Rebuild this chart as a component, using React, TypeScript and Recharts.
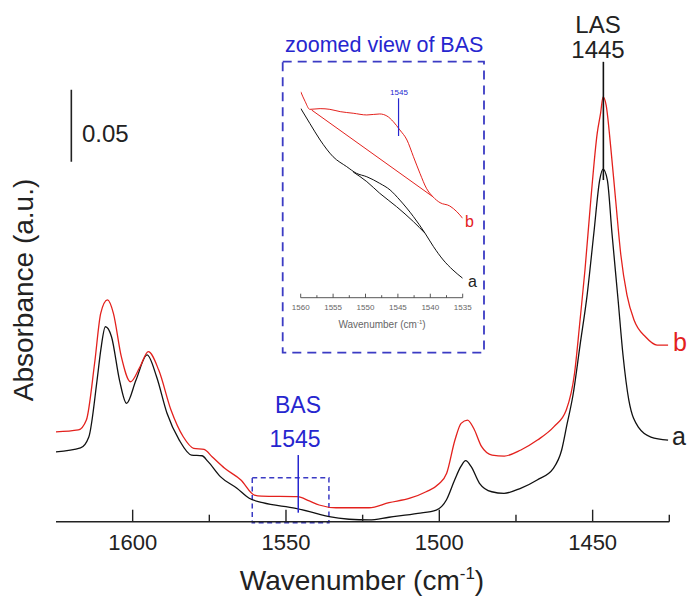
import React from "react";
import { Line, LineChart, ReferenceArea, ReferenceLine, XAxis, YAxis } from "recharts";

const FONT = "'Liberation Sans', Arial, Helvetica, sans-serif";
const RED = "#e3211d";
const BLUE = "#2626cf";
const DASH_BLUE = "#3b3bc4";

// main view, spectrum a (black)
const aWave = [
  1625.2, 1617.0, 1614.3, 1611.6, 1610.4, 1608.9, 1606.9, 1604.3, 1602.0, 1598.9, 1595.3, 1592.2,
  1588.8, 1584.8, 1580.8, 1577.4, 1575.4, 1571.4, 1566.0, 1562.0, 1557.6, 1546.8, 1540.2, 1535.9,
  1529.4, 1522.9, 1516.4, 1507.0, 1501.0, 1497.7, 1495.0, 1493.0, 1491.4, 1489.6, 1486.9, 1482.9,
  1478.9, 1473.5, 1468.1, 1462.8, 1460.1, 1458.4, 1456.4, 1454.1, 1451.8, 1449.6, 1447.7, 1446.6,
  1445.2, 1443.7, 1441.7, 1440.1, 1438.2, 1434.9, 1431.0, 1425.4,
];
const aAbs = [
  0.0484, 0.0512, 0.0588, 0.0984, 0.1192, 0.1354, 0.1285, 0.0984, 0.0822, 0.0984, 0.1158, 0.1007,
  0.0753, 0.0567, 0.0463, 0.0458, 0.0417, 0.0313, 0.0232, 0.0163, 0.0132, 0.0093, 0.0058, 0.0035,
  0.0017, 0.0012, 0.0031, 0.0058, 0.0081, 0.0151, 0.029, 0.0382, 0.0424, 0.0382, 0.0267, 0.0208,
  0.0197, 0.0232, 0.029, 0.0371, 0.0498, 0.0672, 0.088, 0.1227, 0.1574, 0.2005, 0.2373, 0.2449,
  0.2373, 0.2005, 0.154, 0.1158, 0.0845, 0.0651, 0.0588, 0.0567,
];

// main view, spectrum b (red)
const bWave = [
  1625.2, 1617.7, 1615.1, 1612.4, 1610.4, 1608.2, 1606.3, 1603.7, 1600.7, 1597.6, 1594.9, 1591.5,
  1587.5, 1583.5, 1580.1, 1576.7, 1574.1, 1570.0, 1564.7, 1560.3, 1558.0, 1546.2, 1542.4, 1539.2,
  1533.7, 1522.9, 1516.4, 1509.6, 1504.3, 1500.2, 1497.6, 1494.9, 1492.9, 1490.8, 1488.8, 1486.2,
  1482.8, 1478.8, 1473.4, 1468.0, 1462.6, 1458.6, 1455.9, 1454.1, 1452.5, 1450.6, 1448.5, 1447.4,
  1446.6, 1445.6, 1444.1, 1442.5, 1440.8, 1438.8, 1436.5, 1432.7, 1429.0, 1425.4,
];
const bAbs = [
  0.0623, 0.0637, 0.0706, 0.1102, 0.1449, 0.154, 0.1449, 0.1146, 0.0972, 0.1076, 0.1181, 0.1053,
  0.0776, 0.059, 0.051, 0.0502, 0.0451, 0.0371, 0.029, 0.0185, 0.0178, 0.0174, 0.0144, 0.0116,
  0.0097, 0.0097, 0.0132, 0.0163, 0.0208, 0.0262, 0.0336, 0.0567, 0.0683, 0.0706, 0.0649, 0.0521,
  0.0463, 0.0456, 0.0498, 0.0567, 0.066, 0.0776, 0.1031, 0.1401, 0.1748, 0.2234, 0.2699, 0.2838,
  0.2951, 0.2894, 0.2602, 0.2234, 0.1852, 0.1574, 0.1401, 0.1283, 0.1227, 0.1227,
];

// inset (1560-1535 cm-1)
const zbWave = [
  1560, 1559.3, 1558.6, 1557.0, 1555.5, 1553.9, 1551.9, 1549.8, 1547.8, 1546.7, 1545.7, 1544.7,
  1543.6, 1542.6, 1541.6, 1540.6, 1539.6, 1538.5, 1537.0, 1535.9, 1535.0,
];
const zbAbs = [
  0.01431, 0.01361, 0.01308, 0.01313, 0.01308, 0.01292, 0.01281, 0.01269, 0.01276, 0.01262, 0.01222,
  0.01165, 0.01095, 0.00979, 0.00864, 0.0076, 0.00701, 0.0066, 0.00637, 0.00597, 0.00551,
];
const zbBaseWave = [1558.3, 1539.6];
const zbBaseAbs = [0.01303, 0.00701];

const zaWave = [
  1560, 1558.6, 1557.0, 1555.0, 1552.9, 1551.4, 1549.8, 1547.8, 1546.2, 1544.7, 1542.6, 1540.8,
  1539.5, 1538.0, 1536.5, 1535.0,
];
const zaAbs = [
  0.01315, 0.01211, 0.01095, 0.00979, 0.0091, 0.00864, 0.0084, 0.00794, 0.00748, 0.00678, 0.00563,
  0.00447, 0.00354, 0.00262, 0.00192, 0.00135,
];
const zaBaseWave = [1551.9, 1549.8, 1547.8, 1545.2, 1542.6, 1540.8];
const zaBaseAbs = [0.00873, 0.00806, 0.00725, 0.00632, 0.00528, 0.00447];

const mainTicks = [1600, 1575, 1550, 1525, 1500, 1475, 1450, 1425];
const insetTicks = [1560, 1557.5, 1555, 1552.5, 1550, 1547.5, 1545, 1542.5, 1540, 1537.5, 1535];

const zip = (w: number[], v: number[]) => w.map((x, i) => ({ w: x, v: v[i] }));

function MainTick({ x, y, payload }: any) {
  const major = payload.value % 50 === 0;
  return (
    <g>
      <line x1={x} x2={x} y1={y} y2={y - (major ? 12 : 7)} stroke="#222" strokeWidth={1.4} />
      {major ? (
        <text x={x} y={y + 28} textAnchor="middle" fontSize={22} fill="#222" fontFamily={FONT}>
          {payload.value}
        </text>
      ) : null}
    </g>
  );
}

function InsetTick({ x, y, payload }: any) {
  const major = payload.value % 5 === 0;
  return (
    <g>
      <line x1={x} x2={x} y1={y} y2={y - (major ? 4 : 2.5)} stroke="#444" strokeWidth={0.9} />
      {major ? (
        <text x={x} y={y + 12} textAnchor="middle" fontSize={8} fill="#666" fontFamily={FONT}>
          {payload.value}
        </text>
      ) : null}
    </g>
  );
}

export default function App() {
  return (
    <div style={{ position: "absolute", left: 0, top: 0, width: 688, height: 600, background: "#fff" }}>
      <LineChart width={688} height={600} margin={{ top: 66, right: 18.7, bottom: 48.3, left: 56 }}>
        <XAxis
          type="number"
          dataKey="w"
          domain={[1425, 1625]}
          reversed
          allowDataOverflow
          ticks={mainTicks}
          interval={0}
          height={30}
          tickSize={0}
          tickMargin={0}
          tickLine={false}
          tick={<MainTick />}
          axisLine={{ stroke: "#222", strokeWidth: 1.4 }}
        />
        <YAxis
          type="number"
          dataKey="v"
          domain={[0, 0.3165]}
          allowDataOverflow
          width={0}
          tick={false}
          tickLine={false}
          axisLine={{ stroke: "#222", strokeWidth: 1.4 }}
        />
        <ReferenceArea
          x1={1561}
          x2={1536}
          y1={-0.0007}
          y2={0.0306}
          fill="none"
          fillOpacity={0}
          stroke={DASH_BLUE}
          strokeWidth={1.5}
          strokeDasharray="5 3.5"
          ifOverflow="visible"
        />
        <Line data={zip(aWave, aAbs)} dataKey="v" type="monotone" stroke="#111" strokeWidth={1.3} dot={false} isAnimationActive={false} />
        <Line data={zip(bWave, bAbs)} dataKey="v" type="monotone" stroke={RED} strokeWidth={1.3} dot={false} isAnimationActive={false} />
        {/* 0.05 scale bar */}
        <ReferenceLine segment={[{ x: 1620, y: 0.25 }, { x: 1620, y: 0.3 }]} stroke="#222" strokeWidth={1.6} ifOverflow="visible" />
        {/* LAS 1445 marker */}
        <ReferenceLine segment={[{ x: 1446.5, y: 0.2373 }, { x: 1446.5, y: 0.3194 }]} stroke="#111" strokeWidth={1.6} ifOverflow="visible" />
        {/* BAS 1545 marker */}
        <ReferenceLine segment={[{ x: 1546, y: 0.00625 }, { x: 1546, y: 0.0463 }]} stroke={BLUE} strokeWidth={1.5} ifOverflow="visible" />
      </LineChart>

      <div style={{ position: "absolute", left: 282, top: 62 }}>
        <LineChart width={202} height={291} margin={{ top: 19.7, right: 21.3, bottom: 35.3, left: 18.7 }}>
          <XAxis
            type="number"
            dataKey="w"
            domain={[1535, 1560]}
            reversed
            allowDataOverflow
            ticks={insetTicks}
            interval={0}
            height={20}
            tickSize={0}
            tickMargin={0}
            tickLine={false}
            tick={<InsetTick />}
            axisLine={{ stroke: "#444", strokeWidth: 0.9 }}
          />
          <YAxis type="number" dataKey="v" domain={[0, 0.015]} hide allowDataOverflow />
          <Line data={zip(zaWave, zaAbs)} dataKey="v" type="monotone" stroke="#111" strokeWidth={1} dot={false} isAnimationActive={false} />
          <Line data={zip(zaBaseWave, zaBaseAbs)} dataKey="v" type="monotone" stroke="#111" strokeWidth={1} dot={false} isAnimationActive={false} />
          <Line data={zip(zbWave, zbAbs)} dataKey="v" type="monotone" stroke={RED} strokeWidth={1} dot={false} isAnimationActive={false} />
          <Line data={zip(zbBaseWave, zbBaseAbs)} dataKey="v" type="linear" stroke={RED} strokeWidth={1} dot={false} isAnimationActive={false} />
          <ReferenceLine segment={[{ x: 1544.9, y: 0.01123 }, { x: 1544.9, y: 0.01385 }]} stroke={BLUE} strokeWidth={1.2} ifOverflow="visible" />
        </LineChart>
      </div>

      <svg
        width={688}
        height={600}
        style={{ position: "absolute", left: 0, top: 0, pointerEvents: "none" }}
        fontFamily={FONT}
      >
        <rect x={282.7} y={61.7} width={201.3} height={291} fill="none" stroke={DASH_BLUE} strokeWidth={1.8} strokeDasharray="9 6" />
        <text x={285} y={52} fontSize={21.5} fill={BLUE}>zoomed view of BAS</text>
        <text x={399} y={95} fontSize={8} fill={BLUE} textAnchor="middle">1545</text>
        <text x={465} y={227} fontSize={16} fill={RED}>b</text>
        <text x={468} y={287} fontSize={16} fill="#222">a</text>
        <text x={382} y={328} fontSize={10} fill="#666" textAnchor="middle">
          Wavenumber (cm<tspan dy={-4} fontSize={6}>-1</tspan><tspan dy={4}>)</tspan>
        </text>

        <text x={82} y={142} fontSize={24} fill="#222">0.05</text>
        <text x={598} y={33} fontSize={24} fill="#222" textAnchor="middle">LAS</text>
        <text x={598} y={58} fontSize={24} fill="#222" textAnchor="middle">1445</text>
        <text x={298} y={413} fontSize={23} fill={BLUE} textAnchor="middle">BAS</text>
        <text x={295} y={447} fontSize={23} fill={BLUE} textAnchor="middle">1545</text>
        <text x={673} y={351} fontSize={25} fill={RED}>b</text>
        <text x={672} y={445} fontSize={25} fill="#222">a</text>

        <text x={362} y={590} fontSize={28} fill="#222" textAnchor="middle">
          Wavenumber (cm<tspan dy={-11} fontSize={17}>-1</tspan><tspan dy={11}>)</tspan>
        </text>
        <text x={33} y={290} fontSize={28} fill="#222" textAnchor="middle" transform="rotate(-90 33 290)">
          Absorbance (a.u.)
        </text>
      </svg>
    </div>
  );
}
